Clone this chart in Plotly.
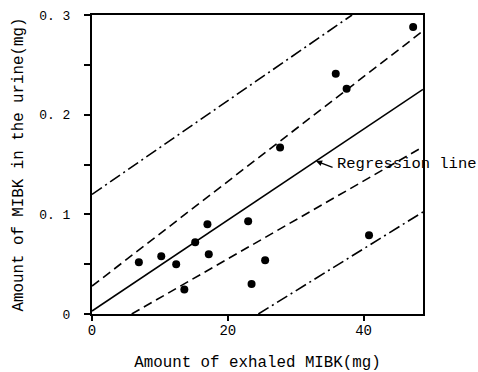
import plotly.graph_objects as go

# Data
x_exhaled = [6.9, 10.2, 12.4, 13.6, 15.2, 17.0, 17.2, 23.0, 23.5, 25.5, 27.7, 35.9, 37.5, 40.8, 47.3]
y_urine = [0.052, 0.058, 0.050, 0.0245, 0.072, 0.090, 0.060, 0.093, 0.030, 0.054, 0.167, 0.241, 0.226, 0.079, 0.288]

reg_x = [0, 48.75]
reg_y = [0.003, 0.2254]
upper_dash_x = [0, 48.75]
upper_dash_y = [0.028, 0.284]
lower_dash_x = [5.85, 48.75]
lower_dash_y = [0, 0.1677]
upper_dashdot_x = [0, 38.3]
upper_dashdot_y = [0.12, 0.3]
lower_dashdot_x = [24.5, 48.75]
lower_dashdot_y = [0, 0.1024]

x_tickvals = [0, 20, 40]
x_ticktext = ["0", "20", "40"]
y_tickvals = [0, 0.1, 0.2, 0.3]
y_ticktext = ["0", "0. 1", "0. 2", "0. 3"]

FONT = "Liberation Mono"
fig = go.Figure()

line_specs = [
    (reg_x, reg_y, "solid"),
    (upper_dash_x, upper_dash_y, "9px,5px"),
    (lower_dash_x, lower_dash_y, "9px,5px"),
    (upper_dashdot_x, upper_dashdot_y, "12px,4px,2px,4px"),
    (lower_dashdot_x, lower_dashdot_y, "12px,4px,2px,4px"),
]
for lx, ly, dash in line_specs:
    fig.add_trace(go.Scatter(x=lx, y=ly, mode="lines",
                             line=dict(color="black", width=1.6, dash=dash),
                             showlegend=False, hoverinfo="skip"))

fig.add_trace(go.Scatter(x=x_exhaled, y=y_urine, mode="markers",
                         marker=dict(color="black", size=8),
                         showlegend=False))

# arrow to regression line
fig.add_annotation(x=33.0, y=0.1535, text="", showarrow=True, ax=18, ay=7,
                   arrowhead=2, arrowsize=1, arrowwidth=1.2, arrowcolor="black")
fig.add_annotation(x=35.8, y=0.1505, text="Regression line", showarrow=False,
                   xanchor="left", yanchor="middle",
                   font=dict(family=FONT, size=15.5, color="black"))

fig.update_layout(
    width=478, height=372,
    margin=dict(l=92, r=55, t=15, b=58),
    paper_bgcolor="white", plot_bgcolor="white",
    font=dict(family=FONT, color="black"),
)
fig.update_xaxes(
    range=[0, 48.75], tickvals=x_tickvals, ticktext=x_ticktext,
    ticks="outside", ticklen=5, tickwidth=1.5, tickcolor="black",
    showline=True, linewidth=2, linecolor="black", mirror=True,
    showgrid=False, zeroline=False, automargin=False,
    ticklabelstandoff=-3,
    tickfont=dict(family=FONT, size=14, color="black"),
    title=dict(text="Amount of exhaled MIBK(mg)", font=dict(family=FONT, size=15.8, color="black"), standoff=30),
)
fig.update_yaxes(
    range=[0, 0.3], tickvals=y_tickvals, ticktext=y_ticktext,
    ticks="outside", ticklen=6, tickwidth=1.5, tickcolor="black",
    minor=dict(dtick=0.05, ticks="outside", ticklen=6, tickwidth=1.5, tickcolor="black"),
    showline=True, linewidth=2, linecolor="black", mirror=True,
    showgrid=False, zeroline=False, automargin=False,
    ticklabelstandoff=11,
    tickfont=dict(family=FONT, size=13, color="black"),
    title=dict(text="Amount of MIBK in the urine(mg)", font=dict(family=FONT, size=15.8, color="black"), standoff=12),
)

fig.write_html("out.html")
